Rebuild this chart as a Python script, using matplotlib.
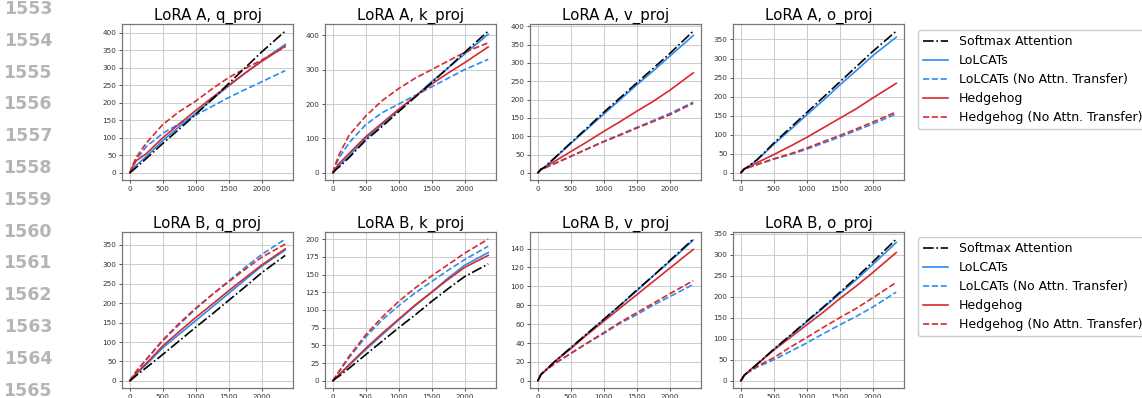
import matplotlib
matplotlib.use("Agg")
import matplotlib.pyplot as plt

# ---------------- data ----------------
steps = [0, 50, 100, 250, 500, 750, 1000, 1250, 1500, 1750, 2000, 2360]

series_labels = ["Softmax Attention", "LoLCATs", "LoLCATs (No Attn. Transfer)",
                 "Hedgehog", "Hedgehog (No Attn. Transfer)"]

# LoRA A
A_q_softmax = [0, 8, 16, 41, 84, 125, 167, 210, 255, 300, 345, 405]
A_q_lolcats = [0, 12, 22, 47, 92, 132, 170, 210, 248, 285, 320, 367]
A_q_lolcats_nat = [0, 22, 38, 75, 113, 140, 165, 190, 215, 238, 260, 292]
A_q_hedgehog = [0, 20, 35, 55, 100, 140, 178, 215, 250, 285, 318, 362]
A_q_hedgehog_nat = [0, 25, 45, 85, 138, 175, 205, 240, 272, 298, 322, 360]

A_k_softmax = [0, 10, 18, 45, 95, 135, 178, 220, 262, 305, 350, 412]
A_k_lolcats = [0, 12, 22, 50, 100, 140, 182, 222, 265, 305, 345, 403]
A_k_lolcats_nat = [0, 25, 45, 88, 140, 175, 200, 225, 250, 275, 300, 330]
A_k_hedgehog = [0, 15, 28, 57, 105, 145, 185, 222, 258, 290, 320, 366]
A_k_hedgehog_nat = [0, 30, 55, 110, 165, 210, 245, 275, 300, 325, 350, 378]

A_v_softmax = [0, 10, 15, 40, 82, 123, 165, 205, 245, 285, 325, 387]
A_v_lolcats = [0, 10, 15, 39, 80, 120, 160, 200, 240, 278, 318, 375]
A_v_lolcats_nat = [0, 10, 13, 25, 45, 66, 86, 105, 124, 143, 162, 193]
A_v_hedgehog = [0, 10, 14, 31, 58, 85, 113, 140, 168, 195, 225, 273]
A_v_hedgehog_nat = [0, 10, 13, 25, 45, 65, 85, 103, 122, 140, 158, 190]

A_o_softmax = [0, 10, 15, 35, 78, 118, 158, 198, 238, 278, 318, 372]
A_o_lolcats = [0, 10, 15, 34, 75, 113, 152, 190, 230, 268, 307, 356]
A_o_lolcats_nat = [0, 10, 13, 22, 36, 48, 62, 78, 94, 111, 128, 155]
A_o_hedgehog = [0, 10, 14, 27, 48, 70, 93, 118, 143, 168, 196, 235]
A_o_hedgehog_nat = [0, 10, 13, 22, 37, 50, 65, 82, 98, 115, 133, 160]

# LoRA B
B_q_softmax = [0, 7, 14, 34, 68, 103, 138, 172, 207, 242, 278, 323]
B_q_lolcats = [0, 10, 18, 42, 85, 120, 155, 190, 225, 260, 295, 337]
B_q_lolcats_nat = [0, 12, 25, 55, 103, 145, 185, 222, 257, 292, 325, 365]
B_q_hedgehog = [0, 10, 20, 45, 90, 127, 163, 197, 232, 265, 298, 340]
B_q_hedgehog_nat = [0, 13, 25, 55, 105, 148, 187, 222, 255, 287, 318, 352]

B_k_softmax = [0, 4, 7, 18, 37, 56, 75, 93, 112, 130, 147, 165]
B_k_lolcats = [0, 5, 9, 22, 44, 65, 86, 106, 125, 145, 163, 181]
B_k_lolcats_nat = [0, 7, 14, 33, 62, 86, 106, 124, 140, 156, 171, 190]
B_k_hedgehog = [0, 5, 9, 23, 46, 67, 87, 107, 125, 143, 160, 177]
B_k_hedgehog_nat = [0, 7, 14, 35, 65, 90, 112, 131, 148, 164, 180, 200]

B_v_softmax = [0, 7, 10, 20, 35, 50, 65, 80, 96, 111, 127, 150]
B_v_lolcats = [0, 7, 10, 20, 35, 50, 65, 80, 95, 111, 126, 149]
B_v_lolcats_nat = [0, 7, 10, 18, 29, 40, 50, 61, 70, 80, 89, 102]
B_v_hedgehog = [0, 7, 10, 20, 34, 49, 63, 77, 91, 105, 119, 139]
B_v_hedgehog_nat = [0, 7, 10, 18, 29, 40, 51, 62, 72, 82, 92, 106]

B_o_softmax = [0, 13, 20, 40, 75, 108, 142, 175, 210, 245, 282, 337]
B_o_lolcats = [0, 13, 20, 40, 75, 107, 140, 173, 207, 240, 276, 329]
B_o_lolcats_nat = [0, 12, 19, 33, 50, 70, 90, 112, 133, 153, 175, 211]
B_o_hedgehog = [0, 13, 20, 40, 73, 103, 133, 163, 195, 225, 257, 305]
B_o_hedgehog_nat = [0, 12, 19, 35, 55, 80, 103, 127, 150, 172, 197, 234]

panel_titles = ["LoRA A, q_proj", "LoRA A, k_proj", "LoRA A, v_proj", "LoRA A, o_proj",
                "LoRA B, q_proj", "LoRA B, k_proj", "LoRA B, v_proj", "LoRA B, o_proj"]
panel_yticks = [list(range(0, 401, 50)), list(range(0, 401, 100)),
                list(range(0, 401, 50)), list(range(0, 351, 50)),
                list(range(0, 351, 50)), list(range(0, 201, 25)),
                list(range(0, 141, 20)), list(range(0, 351, 50))]
xticks = [0, 500, 1000, 1500, 2000]
line_numbers = list(range(1553, 1566))

panel_data = [
    [A_q_softmax, A_q_lolcats, A_q_lolcats_nat, A_q_hedgehog, A_q_hedgehog_nat],
    [A_k_softmax, A_k_lolcats, A_k_lolcats_nat, A_k_hedgehog, A_k_hedgehog_nat],
    [A_v_softmax, A_v_lolcats, A_v_lolcats_nat, A_v_hedgehog, A_v_hedgehog_nat],
    [A_o_softmax, A_o_lolcats, A_o_lolcats_nat, A_o_hedgehog, A_o_hedgehog_nat],
    [B_q_softmax, B_q_lolcats, B_q_lolcats_nat, B_q_hedgehog, B_q_hedgehog_nat],
    [B_k_softmax, B_k_lolcats, B_k_lolcats_nat, B_k_hedgehog, B_k_hedgehog_nat],
    [B_v_softmax, B_v_lolcats, B_v_lolcats_nat, B_v_hedgehog, B_v_hedgehog_nat],
    [B_o_softmax, B_o_lolcats, B_o_lolcats_nat, B_o_hedgehog, B_o_hedgehog_nat],
]

# ---------------- styles ----------------
BLUE = "#2b8cf2"
RED = "#d62a2e"
styles = [
    dict(color="black", linestyle="-."),
    dict(color=BLUE, linestyle="-"),
    dict(color=BLUE, linestyle="--"),
    dict(color=RED, linestyle="-"),
    dict(color=RED, linestyle="--"),
]
draw_order = [1, 2, 3, 4, 0]

W, H = 1142, 398
fig = plt.figure(figsize=(W / 100, H / 100), dpi=100)

col_left = [122, 325, 530, 733]
ax_w = 171
row_top = [24, 232]
ax_h = 156

for i, (title, data, yt) in enumerate(zip(panel_titles, panel_data, panel_yticks)):
    r, c = divmod(i, 4)
    ax = fig.add_axes([col_left[c] / W, 1 - (row_top[r] + ax_h) / H, ax_w / W, ax_h / H])
    handles = [None] * 5
    for k in draw_order:
        (ln,) = ax.plot(steps, data[k], lw=1.2, label=series_labels[k], **styles[k])
        handles[k] = ln
    ax.set_title(title, fontsize=10.8, pad=3)
    ax.set_xticks(xticks)
    ax.set_yticks(yt)
    ax.tick_params(labelsize=5.2, length=2.5, width=0.6, pad=1.5, colors="#333333")
    ax.grid(True, color="#cccccc", lw=0.7)
    ax.set_axisbelow(True)
    for sp in ax.spines.values():
        sp.set_color("#777777")
        sp.set_linewidth(0.9)
    if c == 3:
        leg_top = [30, 237][r]
        fig.legend(handles, series_labels, loc="upper left",
                   bbox_to_anchor=(918 / W, 1 - leg_top / H), borderaxespad=0,
                   fontsize=9.0, frameon=True, framealpha=1, edgecolor="#cccccc",
                   handlelength=2.0, handletextpad=0.9, labelspacing=0.48,
                   borderpad=0.4)

for n in line_numbers:
    y = 9 + 31.8 * (n - 1553)
    fig.text(52 / W, 1 - y / H, str(n), ha="right", va="center",
             fontsize=12.5, fontweight="bold", color="#b5b5b5")

fig.savefig("out.png", dpi=100)
